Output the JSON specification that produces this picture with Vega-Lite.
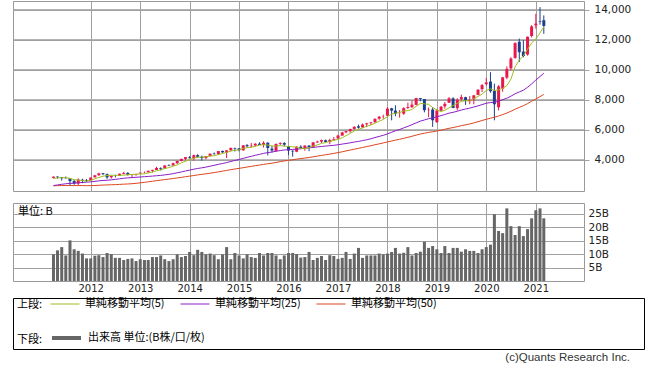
{
  "$schema": "https://vega.github.io/schema/vega-lite/v6.json",
  "background": "white",
  "padding": {"left": 12, "top": 0, "right": 0, "bottom": 0},
  "config": {
    "view": {"stroke": "#999999", "strokeWidth": 1},
    "axis": {"gridColor": "#a0a0a0", "gridWidth": 1, "labelFont": "DejaVu Sans", "labelColor": "#222222", "domain": false},
    "legend": {"labelFont": "Noto Sans CJK JP", "titleFont": "Noto Sans CJK JP"}
  },
  "datasets": {
    "ticks": [{"v": 4000}, {"v": 6000}, {"v": 8000}, {"v": 10000}, {"v": 12000}, {"v": 14000}],
    "m": [
      {"date":"2011-04-01","open":2790,"high":2888,"low":2756,"close":2873,"vol":9.9,"ma5":2758,"ma25":2282,"ma50":2268},
      {"date":"2011-05-01","open":2880,"high":2887,"low":2746,"close":2835,"vol":11.4,"ma5":2794,"ma25":2326,"ma50":2276},
      {"date":"2011-06-01","open":2833,"high":2834,"low":2613,"close":2774,"vol":12.6,"ma5":2809,"ma25":2366,"ma50":2281},
      {"date":"2011-07-01","open":2776,"high":2887,"low":2755,"close":2756,"vol":9.5,"ma5":2804,"ma25":2403,"ma50":2284},
      {"date":"2011-08-01","open":2759,"high":2766,"low":2299,"close":2579,"vol":15.1,"ma5":2763,"ma25":2427,"ma50":2283},
      {"date":"2011-09-01","open":2583,"high":2669,"low":2335,"close":2415,"vol":11.8,"ma5":2672,"ma25":2443,"ma50":2281},
      {"date":"2011-10-01","open":2414,"high":2754,"low":2298,"close":2684,"vol":11.2,"ma5":2642,"ma25":2466,"ma50":2283},
      {"date":"2011-11-01","open":2670,"high":2730,"low":2441,"close":2620,"vol":10.2,"ma5":2611,"ma25":2489,"ma50":2281},
      {"date":"2011-12-01","open":2650,"high":2715,"low":2518,"close":2605,"vol":8.4,"ma5":2581,"ma25":2507,"ma50":2276},
      {"date":"2012-01-01","open":2627,"high":2815,"low":2604,"close":2814,"vol":8.4,"ma5":2628,"ma25":2529,"ma50":2279},
      {"date":"2012-02-01","open":2832,"high":2979,"low":2823,"close":2967,"vol":9.4,"ma5":2738,"ma25":2562,"ma50":2285},
      {"date":"2012-03-01","open":2974,"high":3134,"low":2927,"close":3092,"vol":9.6,"ma5":2820,"ma25":2596,"ma50":2299},
      {"date":"2012-04-01","open":3103,"high":3122,"low":2986,"close":3046,"vol":8.9,"ma5":2905,"ma25":2622,"ma50":2315},
      {"date":"2012-05-01","open":3042,"high":3085,"low":2726,"close":2827,"vol":10.4,"ma5":2949,"ma25":2637,"ma50":2326},
      {"date":"2012-06-01","open":2836,"high":2935,"low":2747,"close":2935,"vol":10.0,"ma5":2973,"ma25":2664,"ma50":2336},
      {"date":"2012-07-01","open":2944,"high":2998,"low":2827,"close":2940,"vol":8.6,"ma5":2968,"ma25":2697,"ma50":2345},
      {"date":"2012-08-01","open":2957,"high":3085,"low":2922,"close":3067,"vol":8.6,"ma5":2963,"ma25":2729,"ma50":2360},
      {"date":"2012-09-01","open":3060,"high":3197,"low":3038,"close":3116,"vol":7.8,"ma5":2977,"ma25":2769,"ma50":2376},
      {"date":"2012-10-01","open":3126,"high":3172,"low":2960,"close":2977,"vol":8.2,"ma5":3007,"ma25":2794,"ma50":2388},
      {"date":"2012-11-01","open":2983,"high":3020,"low":2810,"close":3010,"vol":8.4,"ma5":3022,"ma25":2814,"ma50":2406},
      {"date":"2012-12-01","open":3005,"high":3070,"low":2937,"close":3020,"vol":7.4,"ma5":3038,"ma25":2835,"ma50":2432},
      {"date":"2013-01-01","open":3091,"high":3154,"low":3076,"close":3142,"vol":8.1,"ma5":3053,"ma25":2854,"ma50":2465},
      {"date":"2013-02-01","open":3153,"high":3213,"low":3110,"close":3160,"vol":7.8,"ma5":3062,"ma25":2873,"ma50":2496},
      {"date":"2013-03-01","open":3170,"high":3270,"low":3153,"close":3268,"vol":7.8,"ma5":3120,"ma25":2892,"ma50":2532},
      {"date":"2013-04-01","open":3268,"high":3331,"low":3154,"close":3329,"vol":8.9,"ma5":3184,"ma25":2914,"ma50":2571},
      {"date":"2013-05-01","open":3327,"high":3533,"low":3325,"close":3456,"vol":8.9,"ma5":3271,"ma25":2937,"ma50":2610},
      {"date":"2013-06-01","open":3453,"high":3495,"low":3294,"close":3403,"vol":9.5,"ma5":3323,"ma25":2960,"ma50":2643},
      {"date":"2013-07-01","open":3423,"high":3628,"low":3422,"close":3626,"vol":8.1,"ma5":3416,"ma25":2994,"ma50":2680},
      {"date":"2013-08-01","open":3628,"high":3695,"low":3585,"close":3590,"vol":7.4,"ma5":3481,"ma25":3028,"ma50":2715},
      {"date":"2013-09-01","open":3620,"high":3808,"low":3608,"close":3771,"vol":8.1,"ma5":3569,"ma25":3075,"ma50":2751},
      {"date":"2013-10-01","open":3775,"high":3940,"low":3718,"close":3920,"vol":9.9,"ma5":3662,"ma25":3135,"ma50":2790},
      {"date":"2013-11-01","open":3920,"high":4070,"low":3898,"close":4060,"vol":8.9,"ma5":3793,"ma25":3190,"ma50":2828},
      {"date":"2013-12-01","open":4060,"high":4177,"low":3969,"close":4177,"vol":9.3,"ma5":3904,"ma25":3253,"ma50":2871},
      {"date":"2014-01-01","open":4160,"high":4246,"low":4087,"close":4104,"vol":10.8,"ma5":4006,"ma25":3313,"ma50":2910},
      {"date":"2014-02-01","open":4105,"high":4342,"low":3946,"close":4308,"vol":9.6,"ma5":4114,"ma25":3373,"ma50":2951},
      {"date":"2014-03-01","open":4308,"high":4371,"low":4137,"close":4199,"vol":11.6,"ma5":4170,"ma25":3422,"ma50":2992},
      {"date":"2014-04-01","open":4199,"high":4277,"low":3946,"close":4115,"vol":10.8,"ma5":4181,"ma25":3463,"ma50":3030},
      {"date":"2014-05-01","open":4115,"high":4247,"low":4032,"close":4243,"vol":9.9,"ma5":4194,"ma25":3511,"ma50":3066},
      {"date":"2014-06-01","open":4246,"high":4409,"low":4231,"close":4408,"vol":10.2,"ma5":4255,"ma25":3574,"ma50":3105},
      {"date":"2014-07-01","open":4408,"high":4486,"low":4352,"close":4370,"vol":9.6,"ma5":4267,"ma25":3631,"ma50":3148},
      {"date":"2014-08-01","open":4382,"high":4580,"low":4322,"close":4580,"vol":8.1,"ma5":4343,"ma25":3697,"ma50":3197},
      {"date":"2014-09-01","open":4590,"high":4610,"low":4470,"close":4493,"vol":9.9,"ma5":4419,"ma25":3754,"ma50":3242},
      {"date":"2014-10-01","open":4488,"high":4641,"low":4117,"close":4631,"vol":12.6,"ma5":4496,"ma25":3814,"ma50":3292},
      {"date":"2014-11-01","open":4633,"high":4810,"low":4596,"close":4792,"vol":8.1,"ma5":4573,"ma25":3887,"ma50":3341},
      {"date":"2014-12-01","open":4770,"high":4814,"low":4547,"close":4736,"vol":10.4,"ma5":4646,"ma25":3956,"ma50":3385},
      {"date":"2015-01-01","open":4760,"high":4777,"low":4563,"close":4635,"vol":9.5,"ma5":4657,"ma25":4021,"ma50":3428},
      {"date":"2015-02-01","open":4631,"high":4969,"low":4600,"close":4964,"vol":8.4,"ma5":4752,"ma25":4094,"ma50":3474},
      {"date":"2015-03-01","open":4973,"high":5042,"low":4817,"close":4901,"vol":9.9,"ma5":4806,"ma25":4163,"ma50":3518},
      {"date":"2015-04-01","open":4899,"high":5120,"low":4824,"close":4941,"vol":8.9,"ma5":4835,"ma25":4230,"ma50":3561},
      {"date":"2015-05-01","open":4952,"high":5103,"low":4890,"close":5070,"vol":8.6,"ma5":4902,"ma25":4300,"ma50":3607},
      {"date":"2015-06-01","open":5071,"high":5164,"low":4987,"close":4987,"vol":10.4,"ma5":4973,"ma25":4361,"ma50":3649},
      {"date":"2015-07-01","open":4996,"high":5232,"low":4810,"close":5128,"vol":9.5,"ma5":5005,"ma25":4430,"ma50":3695},
      {"date":"2015-08-01","open":5130,"high":5175,"low":4292,"close":4777,"vol":10.4,"ma5":4981,"ma25":4476,"ma50":3735},
      {"date":"2015-09-01","open":4740,"high":4927,"low":4487,"close":4620,"vol":10.4,"ma5":4916,"ma25":4517,"ma50":3773},
      {"date":"2015-10-01","open":4592,"high":5090,"low":4542,"close":5054,"vol":9.5,"ma5":4913,"ma25":4568,"ma50":3822},
      {"date":"2015-11-01","open":5056,"high":5160,"low":4976,"close":5109,"vol":8.1,"ma5":4938,"ma25":4616,"ma50":3876},
      {"date":"2015-12-01","open":5120,"high":5176,"low":4899,"close":5007,"vol":9.5,"ma5":4913,"ma25":4654,"ma50":3922},
      {"date":"2016-01-01","open":4897,"high":4926,"low":4313,"close":4614,"vol":10.4,"ma5":4881,"ma25":4671,"ma50":3962},
      {"date":"2016-02-01","open":4600,"high":4631,"low":4210,"close":4558,"vol":10.4,"ma5":4868,"ma25":4690,"ma50":4001},
      {"date":"2016-03-01","open":4540,"high":4909,"low":4506,"close":4870,"vol":10.0,"ma5":4832,"ma25":4712,"ma50":4043},
      {"date":"2016-04-01","open":4870,"high":4970,"low":4745,"close":4775,"vol":8.7,"ma5":4765,"ma25":4735,"ma50":4079},
      {"date":"2016-05-01","open":4780,"high":4954,"low":4596,"close":4948,"vol":8.9,"ma5":4753,"ma25":4768,"ma50":4116},
      {"date":"2016-06-01","open":4945,"high":4980,"low":4574,"close":4843,"vol":10.8,"ma5":4799,"ma25":4792,"ma50":4152},
      {"date":"2016-07-01","open":4842,"high":5180,"low":4836,"close":5162,"vol":7.8,"ma5":4920,"ma25":4823,"ma50":4198},
      {"date":"2016-08-01","open":5152,"high":5271,"low":5145,"close":5213,"vol":8.6,"ma5":4988,"ma25":4856,"ma50":4244},
      {"date":"2016-09-01","open":5213,"high":5343,"low":5125,"close":5312,"vol":9.3,"ma5":5096,"ma25":4886,"ma50":4291},
      {"date":"2016-10-01","open":5303,"high":5343,"low":5154,"close":5189,"vol":7.8,"ma5":5144,"ma25":4913,"ma50":4334},
      {"date":"2016-11-01","open":5183,"high":5400,"low":5034,"close":5324,"vol":9.6,"ma5":5240,"ma25":4941,"ma50":4378},
      {"date":"2016-12-01","open":5335,"high":5512,"low":5317,"close":5383,"vol":9.3,"ma5":5284,"ma25":4965,"ma50":4426},
      {"date":"2017-01-01","open":5425,"high":5669,"low":5397,"close":5615,"vol":8.2,"ma5":5365,"ma25":5000,"ma50":4478},
      {"date":"2017-02-01","open":5610,"high":5867,"low":5605,"close":5825,"vol":8.6,"ma5":5467,"ma25":5047,"ma50":4534},
      {"date":"2017-03-01","open":5832,"high":5928,"low":5769,"close":5912,"vol":10.8,"ma5":5612,"ma25":5085,"ma50":4590},
      {"date":"2017-04-01","open":5901,"high":6076,"low":5806,"close":6048,"vol":8.2,"ma5":5757,"ma25":5131,"ma50":4648},
      {"date":"2017-05-01","open":6060,"high":6225,"low":5996,"close":6199,"vol":10.2,"ma5":5920,"ma25":5182,"ma50":4706},
      {"date":"2017-06-01","open":6230,"high":6342,"low":6081,"close":6140,"vol":12.3,"ma5":6025,"ma25":5224,"ma50":4762},
      {"date":"2017-07-01","open":6158,"high":6422,"low":6101,"close":6348,"vol":8.6,"ma5":6129,"ma25":5279,"ma50":4820},
      {"date":"2017-08-01","open":6362,"high":6460,"low":6177,"close":6429,"vol":9.5,"ma5":6233,"ma25":5331,"ma50":4881},
      {"date":"2017-09-01","open":6440,"high":6496,"low":6311,"close":6496,"vol":9.5,"ma5":6322,"ma25":5400,"ma50":4938},
      {"date":"2017-10-01","open":6505,"high":6757,"low":6470,"close":6728,"vol":9.5,"ma5":6428,"ma25":5484,"ma50":5001},
      {"date":"2017-11-01","open":6740,"high":6915,"low":6663,"close":6874,"vol":10.2,"ma5":6575,"ma25":5557,"ma50":5063},
      {"date":"2017-12-01","open":6889,"high":7003,"low":6730,"close":6903,"vol":9.9,"ma5":6686,"ma25":5628,"ma50":5123},
      {"date":"2018-01-01","open":6937,"high":7506,"low":6924,"close":7411,"vol":10.2,"ma5":6882,"ma25":5725,"ma50":5190},
      {"date":"2018-02-01","open":7430,"high":7466,"low":6630,"close":7273,"vol":10.8,"ma5":7038,"ma25":5831,"ma50":5252},
      {"date":"2018-03-01","open":7279,"high":7637,"low":6903,"close":7063,"vol":12.3,"ma5":7105,"ma25":5931,"ma50":5311},
      {"date":"2018-04-01","open":7063,"high":7317,"low":6806,"close":7066,"vol":10.2,"ma5":7143,"ma25":6019,"ma50":5366},
      {"date":"2018-05-01","open":7073,"high":7497,"low":6993,"close":7442,"vol":10.5,"ma5":7251,"ma25":6126,"ma50":5431},
      {"date":"2018-06-01","open":7448,"high":7806,"low":7396,"close":7510,"vol":12.6,"ma5":7271,"ma25":6228,"ma50":5499},
      {"date":"2018-07-01","open":7500,"high":7933,"low":7475,"close":7672,"vol":9.5,"ma5":7351,"ma25":6341,"ma50":5567},
      {"date":"2018-08-01","open":7660,"high":8133,"low":7622,"close":8110,"vol":10.4,"ma5":7560,"ma25":6459,"ma50":5641},
      {"date":"2018-09-01","open":8110,"high":8110,"low":7895,"close":8046,"vol":10.9,"ma5":7756,"ma25":6573,"ma50":5715},
      {"date":"2018-10-01","open":8050,"high":8048,"low":7162,"close":7306,"vol":14.6,"ma5":7729,"ma25":6652,"ma50":5769},
      {"date":"2018-11-01","open":7306,"high":7486,"low":6831,"close":7331,"vol":12.3,"ma5":7693,"ma25":6738,"ma50":5826},
      {"date":"2018-12-01","open":7350,"high":7486,"low":6190,"close":6635,"vol":13.0,"ma5":7486,"ma25":6791,"ma50":5866},
      {"date":"2019-01-01","open":6506,"high":7371,"low":6457,"close":7282,"vol":11.8,"ma5":7320,"ma25":6867,"ma50":5916},
      {"date":"2019-02-01","open":7263,"high":7589,"low":7234,"close":7533,"vol":10.4,"ma5":7217,"ma25":6943,"ma50":5972},
      {"date":"2019-03-01","open":7563,"high":7850,"low":7408,"close":7729,"vol":13.0,"ma5":7302,"ma25":7019,"ma50":6034},
      {"date":"2019-04-01","open":7800,"high":8176,"low":7793,"close":8095,"vol":10.4,"ma5":7455,"ma25":7107,"ma50":6096},
      {"date":"2019-05-01","open":8092,"high":8164,"low":7437,"close":7453,"vol":12.3,"ma5":7618,"ma25":7163,"ma50":6147},
      {"date":"2019-06-01","open":7435,"high":8098,"low":7292,"close":8006,"vol":12.3,"ma5":7763,"ma25":7235,"ma50":6209},
      {"date":"2019-07-01","open":8038,"high":8340,"low":7942,"close":8175,"vol":10.9,"ma5":7892,"ma25":7317,"ma50":6271},
      {"date":"2019-08-01","open":8173,"high":8200,"low":7662,"close":7963,"vol":11.8,"ma5":7938,"ma25":7381,"ma50":6330},
      {"date":"2019-09-01","open":7900,"high":8243,"low":7700,"close":7999,"vol":11.2,"ma5":7919,"ma25":7444,"ma50":6388},
      {"date":"2019-10-01","open":8023,"high":8325,"low":7701,"close":8292,"vol":11.2,"ma5":8087,"ma25":7516,"ma50":6458},
      {"date":"2019-11-01","open":8320,"high":8705,"low":8310,"close":8665,"vol":10.4,"ma5":8219,"ma25":7593,"ma50":6539},
      {"date":"2019-12-01","open":8710,"high":9052,"low":8519,"close":8973,"vol":11.8,"ma5":8378,"ma25":7677,"ma50":6617},
      {"date":"2020-01-01","open":9040,"high":9451,"low":8951,"close":9151,"vol":12.6,"ma5":8616,"ma25":7767,"ma50":6698},
      {"date":"2020-02-01","open":9210,"high":9838,"low":8464,"close":8567,"vol":13.5,"ma5":8730,"ma25":7813,"ma50":6769},
      {"date":"2020-03-01","open":8590,"high":9069,"low":6631,"close":7700,"vol":24.8,"ma5":8611,"ma25":7831,"ma50":6831},
      {"date":"2020-04-01","open":7500,"high":8975,"low":7286,"close":8890,"vol":18.6,"ma5":8656,"ma25":7904,"ma50":6918},
      {"date":"2020-05-01","open":8740,"high":9523,"low":8530,"close":9490,"vol":17.8,"ma5":8760,"ma25":8001,"ma50":7010},
      {"date":"2020-06-01","open":9471,"high":10221,"low":9364,"close":10059,"vol":27.0,"ma5":8941,"ma25":8105,"ma50":7116},
      {"date":"2020-07-01","open":10094,"high":10839,"low":9965,"close":10745,"vol":20.4,"ma5":9377,"ma25":8235,"ma50":7232},
      {"date":"2020-08-01","open":10787,"high":11829,"low":10729,"close":11775,"vol":17.1,"ma5":10192,"ma25":8399,"ma50":7370},
      {"date":"2020-09-01","open":11861,"high":12074,"low":10519,"close":11168,"vol":20.4,"ma5":10647,"ma25":8521,"ma50":7491},
      {"date":"2020-10-01","open":11208,"high":11965,"low":10822,"close":10912,"vol":16.7,"ma5":10932,"ma25":8636,"ma50":7605},
      {"date":"2020-11-01","open":11011,"high":12213,"low":10942,"close":12199,"vol":19.3,"ma5":11360,"ma25":8831,"ma50":7742},
      {"date":"2020-12-01","open":12247,"high":12973,"low":12152,"close":12888,"vol":23.3,"ma5":11788,"ma25":9054,"ma50":7896},
      {"date":"2021-01-01","open":12958,"high":13728,"low":12733,"close":13071,"vol":26.3,"ma5":12048,"ma25":9311,"ma50":8051},
      {"date":"2021-02-01","open":13230,"high":14175,"low":13003,"close":13192,"vol":27.0,"ma5":12452,"ma25":9548,"ma50":8207},
      {"date":"2021-03-01","open":13300,"high":13620,"low":12397,"close":12920,"vol":23.3,"ma5":12854,"ma25":9763,"ma50":8354}
    ]
  },
  "spacing": 3,
  "vconcat": [
    {
      "spacing": 10,
      "vconcat": [
        {
          "width": 571,
          "height": 190,
          "layer": [
            {
              "data": {"name": "ticks"},
              "mark": {"type": "rule", "color": "#a0a0a0", "strokeWidth": 1},
              "encoding": {
                "y": {"field": "v", "type": "quantitative", "scale": {"domain": [1920, 14580], "nice": false, "zero": false},
                  "axis": {"orient": "right", "title": null, "values": [4000, 6000, 8000, 10000, 12000, 14000], "labelExpr": "format(datum.value, ',')", "grid": true, "ticks": true, "tickSize": 5, "tickColor": "#a0a0a0", "labelPadding": 5, "labelFontSize": 10.5}}
              }
            },
            {
              "data": {"name": "m"},
              "mark": {"type": "rule", "strokeWidth": 1},
              "encoding": {
                "x": {
                  "field": "date", "type": "temporal",
                  "scale": {"type": "utc", "domain": [{"year": 2010, "month": 7, "date": 13, "utc": true}, {"year": 2021, "month": 11, "date": 16, "utc": true}]},
                  "axis": {"title": null, "labels": false, "ticks": false, "domain": false, "grid": true,
                    "values": [{"year": 2012, "month": 1, "date": 1, "utc": true}, {"year": 2013, "month": 1, "date": 1, "utc": true}, {"year": 2014, "month": 1, "date": 1, "utc": true}, {"year": 2015, "month": 1, "date": 1, "utc": true}, {"year": 2016, "month": 1, "date": 1, "utc": true}, {"year": 2017, "month": 1, "date": 1, "utc": true}, {"year": 2018, "month": 1, "date": 1, "utc": true}, {"year": 2019, "month": 1, "date": 1, "utc": true}, {"year": 2020, "month": 1, "date": 1, "utc": true}, {"year": 2021, "month": 1, "date": 1, "utc": true}]}
                },
                "y": {"field": "low", "type": "quantitative", "scale": {"domain": [1920, 14580], "nice": false, "zero": false},
                  "axis": {"orient": "right", "title": null, "values": [4000, 6000, 8000, 10000, 12000, 14000], "labelExpr": "format(datum.value, ',')", "grid": true, "ticks": true, "tickSize": 5, "tickColor": "#a0a0a0", "labelPadding": 5, "labelFontSize": 10.5}},
                "y2": {"field": "high"},
                "color": {"condition": {"test": "datum.close >= datum.open", "value": "#e8184a"}, "value": "#1b3f8e"}
              }
            },
            {
              "data": {"name": "m"},
              "mark": {"type": "bar", "size": 3},
              "encoding": {
                "x": {"field": "date", "type": "temporal"},
                "y": {"field": "open", "type": "quantitative", "scale": {"domain": [1920, 14580], "nice": false, "zero": false},
                  "axis": {"orient": "right", "title": null, "values": [4000, 6000, 8000, 10000, 12000, 14000], "labelExpr": "format(datum.value, ',')", "grid": true, "ticks": true, "tickSize": 5, "tickColor": "#a0a0a0", "labelPadding": 5, "labelFontSize": 10.5}},
                "y2": {"field": "close"},
                "color": {"condition": {"test": "datum.close >= datum.open", "value": "#e8184a"}, "value": "#1b3f8e"}
              }
            },
            {
              "data": {"name": "m"},
              "mark": {"type": "line", "strokeWidth": 1},
              "encoding": {
                "x": {"field": "date", "type": "temporal"},
                "y": {"field": "ma50", "type": "quantitative", "scale": {"domain": [1920, 14580], "nice": false, "zero": false},
                  "axis": {"orient": "right", "title": null, "values": [4000, 6000, 8000, 10000, 12000, 14000], "labelExpr": "format(datum.value, ',')", "grid": true, "ticks": true, "tickSize": 5, "tickColor": "#a0a0a0", "labelPadding": 5, "labelFontSize": 10.5}},
                "stroke": {"datum": "単純移動平均(50)", "type": "nominal",
                  "scale": {"domain": ["単純移動平均(5)", "単純移動平均(25)", "単純移動平均(50)"], "range": ["#a0be1e", "#8c1ec8", "#dc461e"]},
                  "legend": {"orient": "none", "legendX": 4, "legendY": 288, "direction": "horizontal", "title": "上段:", "titleOrient": "left", "titleAnchor": "middle", "titleBaseline": "top", "titlePadding": 7, "titleFontSize": 11, "titleFontWeight": "normal", "titleColor": "#000000", "labelFontSize": 11, "labelColor": "#000000", "labelOffset": 5, "symbolType": "stroke", "symbolSize": 841, "symbolStrokeWidth": 1, "columnPadding": 13, "padding": 0, "labelLimit": 300}}
              }
            },
            {
              "data": {"name": "m"},
              "mark": {"type": "line", "strokeWidth": 1},
              "encoding": {
                "x": {"field": "date", "type": "temporal"},
                "y": {"field": "ma25", "type": "quantitative", "scale": {"domain": [1920, 14580], "nice": false, "zero": false},
                  "axis": {"orient": "right", "title": null, "values": [4000, 6000, 8000, 10000, 12000, 14000], "labelExpr": "format(datum.value, ',')", "grid": true, "ticks": true, "tickSize": 5, "tickColor": "#a0a0a0", "labelPadding": 5, "labelFontSize": 10.5}},
                "stroke": {"datum": "単純移動平均(25)", "type": "nominal"}
              }
            },
            {
              "data": {"name": "m"},
              "mark": {"type": "line", "strokeWidth": 1},
              "encoding": {
                "x": {"field": "date", "type": "temporal"},
                "y": {"field": "ma5", "type": "quantitative", "scale": {"domain": [1920, 14580], "nice": false, "zero": false},
                  "axis": {"orient": "right", "title": null, "values": [4000, 6000, 8000, 10000, 12000, 14000], "labelExpr": "format(datum.value, ',')", "grid": true, "ticks": true, "tickSize": 5, "tickColor": "#a0a0a0", "labelPadding": 5, "labelFontSize": 10.5}},
                "stroke": {"datum": "単純移動平均(5)", "type": "nominal"}
              }
            }
          ]
        },
        {
          "width": 571,
          "height": 78,
          "data": {"name": "m"},
          "mark": {"type": "bar", "size": 3},
          "encoding": {
            "x": {
              "field": "date", "type": "temporal",
              "scale": {"type": "utc", "domain": [{"year": 2010, "month": 7, "date": 13, "utc": true}, {"year": 2021, "month": 11, "date": 16, "utc": true}]},
              "axis": {"title": null, "format": "%Y", "ticks": false, "domain": false, "grid": true, "labelFontSize": 10, "labelPadding": 2,
                "values": [{"year": 2012, "month": 1, "date": 1, "utc": true}, {"year": 2013, "month": 1, "date": 1, "utc": true}, {"year": 2014, "month": 1, "date": 1, "utc": true}, {"year": 2015, "month": 1, "date": 1, "utc": true}, {"year": 2016, "month": 1, "date": 1, "utc": true}, {"year": 2017, "month": 1, "date": 1, "utc": true}, {"year": 2018, "month": 1, "date": 1, "utc": true}, {"year": 2019, "month": 1, "date": 1, "utc": true}, {"year": 2020, "month": 1, "date": 1, "utc": true}, {"year": 2021, "month": 1, "date": 1, "utc": true}]}
            },
            "y": {"field": "vol", "type": "quantitative", "scale": {"domain": [0, 29], "nice": false},
              "axis": {"orient": "right", "values": [5, 10, 15, 20, 25], "labelExpr": "datum.value + 'B'", "grid": true, "ticks": false, "labelPadding": 4, "labelFontSize": 10.5,
                "title": "単位: B", "titleAngle": 0, "titleX": -566.6, "titleY": 8, "titleAlign": "left", "titleBaseline": "middle", "titleFont": "Noto Sans CJK JP", "titleFontSize": 11, "titleFontWeight": "normal", "titleColor": "#000000"}},
            "fill": {"datum": "出来高 単位:(B株/口/枚)", "type": "nominal", "scale": {"range": ["#666666"]},
              "legend": {"orient": "none", "legendX": 4, "legendY": 320.5, "title": "下段:", "titleOrient": "left", "titleAnchor": "middle", "titleBaseline": "top", "titlePadding": 7, "titleFontSize": 11, "titleFontWeight": "normal", "titleColor": "#000000", "labelFontSize": 11, "labelColor": "#000000", "labelOffset": 5, "symbolType": "stroke", "symbolSize": 841, "symbolStrokeWidth": 4, "symbolStrokeColor": "#666666", "padding": 0, "labelLimit": 300}}
          }
        }
      ]
    },
    {
      "width": 631,
      "height": 51,
      "view": {"stroke": "#000000", "strokeWidth": 1},
      "data": {"values": []},
      "mark": {"type": "text"},
      "encoding": {"text": {"value": ""}},
      "title": {"text": "(c)Quants Research Inc.", "orient": "bottom", "anchor": "end", "offset": 3, "dx": -14, "font": "Liberation Sans", "fontSize": 11.5, "fontWeight": "normal", "color": "#333333"}
    }
  ]
}
